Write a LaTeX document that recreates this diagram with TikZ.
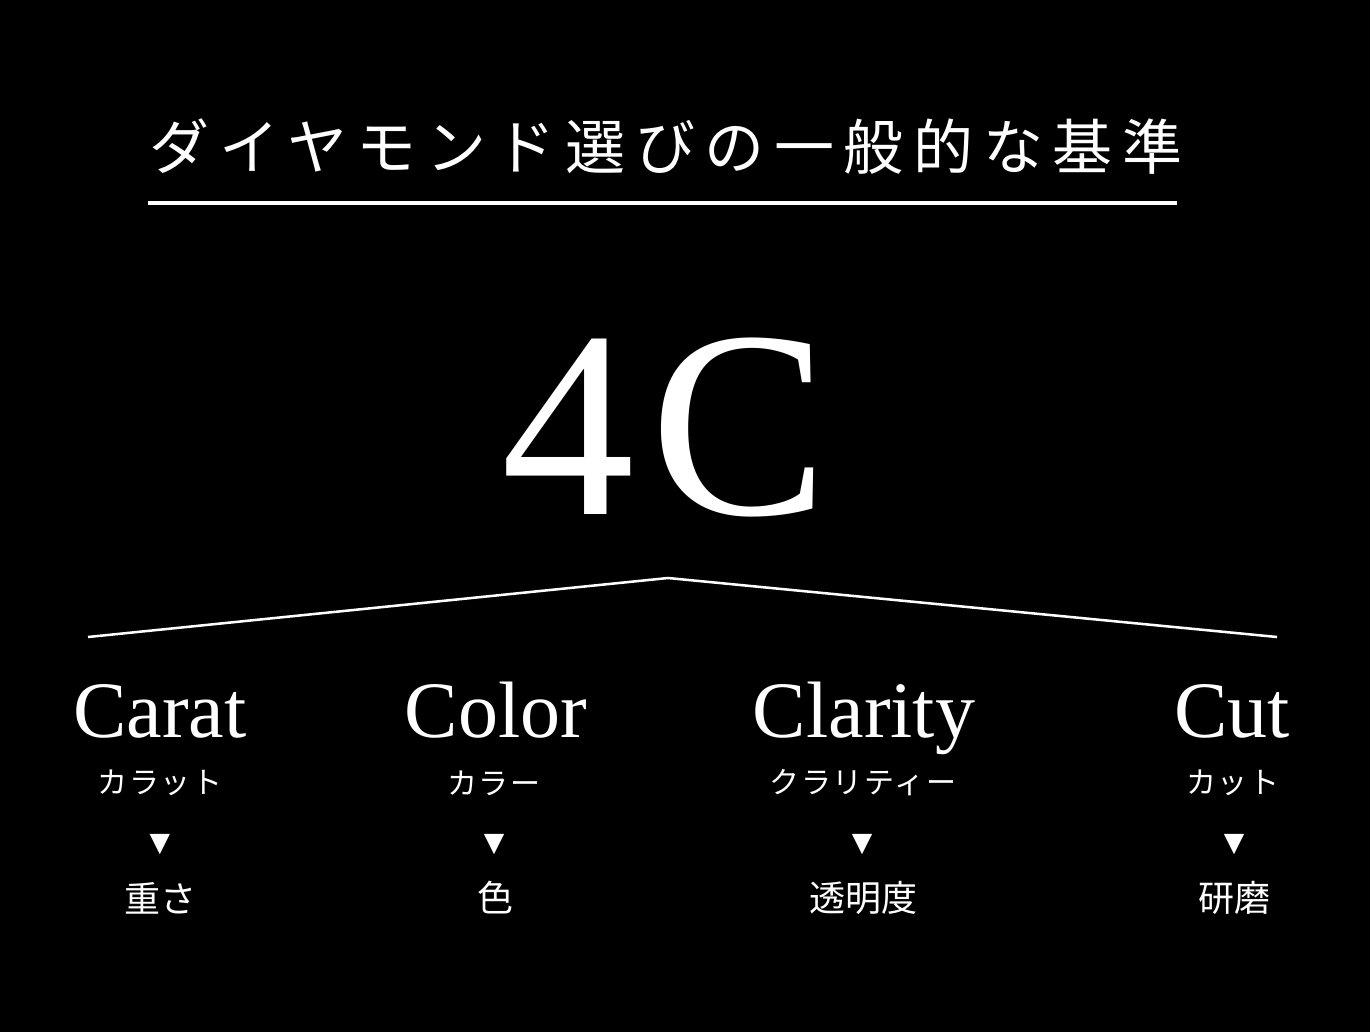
\documentclass[tikz,border=0pt]{standalone}
\usepackage{fontspec}
\setmainfont{Liberation Serif}
\newfontfamily\jpfont{Noto Sans CJK JP}
\newfontfamily\jptitle[LetterSpace=16]{Noto Sans CJK JP}
\newfontfamily\jpkana[LetterSpace=6]{Noto Sans CJK JP}
\newfontfamily\symfont{DejaVu Sans}
\begin{document}
\begin{tikzpicture}[x=0.75pt,y=-0.75pt,
  txt/.style={text=white,inner sep=0pt},
  title/.style={txt,font=\jptitle\fontsize{45}{45}\selectfont},
  big/.style={txt,font=\fontsize{200}{200}\selectfont,anchor=base},
  cname/.style={txt,font=\fontsize{60}{60}\selectfont,anchor=base},
  kana/.style={txt,font=\jpkana\fontsize{22.5}{22.5}\selectfont},
  tri/.style={txt,font=\symfont\fontsize{20}{20}\selectfont},
  meaning/.style={txt,font=\jpfont\fontsize{27}{27}\selectfont},
  rule/.style={draw=white,line width=2.4pt},
  chev/.style={draw=white,line width=1.9pt}]
\fill[black] (0,0) rectangle (1370,1032);
\useasboundingbox (0,0) rectangle (1370,1032);

\node[title] (title) at (666,147) {ダイヤモンド選びの一般的な基準};
\coordinate (ul) at (148,203);
\coordinate (ur) at (1177,203);
\draw[rule] (ul) -- (ur);

\node[big] (fourc) at (665,514) {4\kern 12pt C};

\coordinate (cl) at (88,637);
\coordinate (ct) at (668,578);
\coordinate (cr) at (1277,637);
\draw[chev] (cl) -- (ct) -- (cr);

\node[cname] (carat) at (160,737) {Carat};
\node[cname] (color) at (496,737) {Color};
\node[cname] (clarity) at (864,737) {Clarity};
\node[cname] (cut) at (1232,737) {Cut};

\node[kana] (k1) at (160,783) {カラット};
\node[kana] (k2) at (494,783) {カラー};
\node[kana] (k3) at (863,783) {クラリティー};
\node[kana] (k4) at (1233,783) {カット};

\node[tri] (t1) at (160,845) {▼};
\node[tri] (t2) at (494,845) {▼};
\node[tri] (t3) at (862,845) {▼};
\node[tri] (t4) at (1234,845) {▼};

\node[meaning] (m1) at (160,898) {重さ};
\node[meaning] (m2) at (495,898) {色};
\node[meaning] (m3) at (863,898) {透明度};
\node[meaning] (m4) at (1234,898) {研磨};
\end{tikzpicture}
\end{document}
